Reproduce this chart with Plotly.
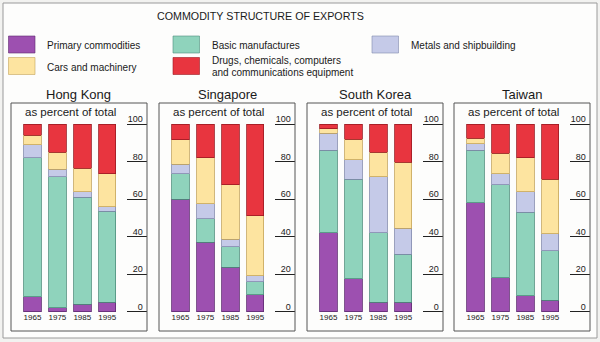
import plotly.graph_objects as go

W, H = 600, 342

title_text = "COMMODITY STRUCTURE OF EXPORTS"
years = ["1965", "1975", "1985", "1995"]
countries = ["Hong Kong", "Singapore", "South Korea", "Taiwan"]
subtitle = "as percent of total"
y_ticks = [0, 20, 40, 60, 80, 100]
series_names = [
    "Primary commodities",
    "Basic manufactures",
    "Metals and shipbuilding",
    "Cars and machinery",
    "Drugs, chemicals, computers<br>and communications equipment",
]

# values (percent of total) in order of years
hk_primary = [8, 2, 4, 5]
hk_basic = [74, 70, 57, 48.5]
hk_metals = [7, 4, 3, 2.5]
hk_cars = [5, 9, 12.5, 17.5]
hk_drugs = [6, 15, 23.5, 26.5]

sg_primary = [60, 37, 23.5, 9]
sg_basic = [13.5, 12.5, 11, 7]
sg_metals = [5, 8, 4, 3]
sg_cars = [13, 24.5, 29, 32]
sg_drugs = [8.5, 18, 32.5, 49]

kr_primary = [42, 17.5, 5, 5]
kr_basic = [44, 53, 37, 25.5]
kr_metals = [9, 10.5, 30, 14]
kr_cars = [2.5, 11, 13, 35]
kr_drugs = [2.5, 8, 15, 20.5]

tw_primary = [58, 18, 8.5, 6]
tw_basic = [28, 49.5, 44.5, 26.5]
tw_metals = [3.5, 6, 11, 9]
tw_cars = [3, 11, 18, 29]
tw_drugs = [7.5, 15.5, 18, 29.5]

panel_data = [
    [hk_primary, hk_basic, hk_metals, hk_cars, hk_drugs],
    [sg_primary, sg_basic, sg_metals, sg_cars, sg_drugs],
    [kr_primary, kr_basic, kr_metals, kr_cars, kr_drugs],
    [tw_primary, tw_basic, tw_metals, tw_cars, tw_drugs],
]

# styling
fill_colors = ["#9d50b0", "#8fd3bc", "#c5cae8", "#fde4a0", "#e8353f"]
edge_colors = ["#5e2a70", "#4e8f7c", "#8289ad", "#c4a55c", "#9a1a22"]
FONT = "Liberation Sans, Arial, Helvetica, sans-serif"
TXT = "#1a1a1a"

def px(x):
    return x / W

def py(y):
    return 1 - y / H

panel_offsets = [0, 148, 296, 443]
box_left, box_right, box_top, box_bottom = 11, 147, 103, 331
bars_left, bars_right = 20.0, 119.7
# value 0 at y=311.5 px, value 100 at y=124 px; range padded so edge labels show
ppu = (311.5 - 124.0) / 100.0
y_lo, y_hi = -3, 106
dom_bottom_px = 311.5 - y_lo * ppu
dom_top_px = 124.0 - (y_hi - 100) * ppu

fig = go.Figure()
layout = dict(
    width=W, height=H,
    margin=dict(l=0, r=0, t=0, b=0),
    paper_bgcolor="#f2f2f0",
    plot_bgcolor="rgba(0,0,0,0)",
    showlegend=False,
    barmode="stack",
    bargap=0.3,
    font=dict(family=FONT, color=TXT),
)
shapes = []
annotations = []

# outer frame
shapes.append(dict(type="rect", xref="paper", yref="paper",
                   x0=px(3), x1=px(597), y0=py(338), y1=py(3),
                   line=dict(color="#9a9a9a", width=1), fillcolor="#fdfdfc", layer="below"))

for i, (country, vals) in enumerate(zip(countries, panel_data)):
    off = panel_offsets[i]
    sfx = "" if i == 0 else str(i + 1)
    xa, ya = "x" + sfx, "y" + sfx
    layout["xaxis" + sfx] = dict(
        domain=[px(bars_left + off), px(bars_right + off)],
        anchor=ya, type="category", range=[-0.5, 3.5],
        showgrid=False, zeroline=False, showline=False, ticks="",
        ticklabelstandoff=-6,
        tickfont=dict(size=8, family=FONT, color=TXT), fixedrange=True,
    )
    layout["yaxis" + sfx] = dict(
        domain=[py(dom_bottom_px), py(dom_top_px)],
        anchor="free", position=px(box_right + off), side="right",
        range=[y_lo, y_hi], tickvals=y_ticks, ticktext=[str(v) for v in y_ticks],
        ticks="inside", ticklen=20, tickwidth=1, tickcolor="#222222",
        ticklabelposition="inside", ticklabelshift=-5, ticklabelstandoff=-17,
        showgrid=False, zeroline=False, showline=False,
        tickfont=dict(size=9, family=FONT, color=TXT), fixedrange=True,
    )
    for s, (name, v) in enumerate(zip(series_names, vals)):
        fig.add_trace(go.Bar(
            x=years, y=v, name=name.replace("<br>", " "), xaxis=xa, yaxis=ya,
            marker=dict(color=fill_colors[s], line=dict(color=edge_colors[s], width=0.8)),
            legendgroup=str(s), showlegend=False,
        ))
    # panel box
    shapes.append(dict(type="rect", xref="paper", yref="paper",
                       x0=px(box_left + off), x1=px(box_right + off),
                       y0=py(box_bottom), y1=py(box_top),
                       line=dict(color="#555555", width=1), fillcolor="rgba(0,0,0,0)"))
    # panel title
    annotations.append(dict(text=country, xref="paper", yref="paper",
                            x=px((box_left + box_right) / 2 + off), y=py(94),
                            xanchor="center", yanchor="middle", showarrow=False,
                            font=dict(size=13, family=FONT, color=TXT)))
    annotations.append(dict(text=subtitle, xref="paper", yref="paper",
                            x=px(22.5 + off), y=py(112.3),
                            xanchor="left", yanchor="middle", showarrow=False,
                            font=dict(size=11.5, family=FONT, color=TXT)))

# main title
annotations.append(dict(text=title_text, xref="paper", yref="paper",
                        x=px(260), y=py(16), xanchor="center", yanchor="middle",
                        showarrow=False, font=dict(size=10.7, family=FONT, color=TXT)))

# legend (swatch boxes + labels)
legend_pos = [(8.5, 36), (173, 36), (372, 36), (8.5, 57.5), (173, 57.5)]
for s, name in enumerate(series_names):
    lx, ly = legend_pos[s]
    shapes.append(dict(type="rect", xref="paper", yref="paper",
                       x0=px(lx), x1=px(lx + 26.5), y0=py(ly + 17), y1=py(ly),
                       line=dict(color=edge_colors[s], width=0.6), fillcolor=fill_colors[s]))
    lines = name.split("<br>")
    if len(lines) == 1:
        annotations.append(dict(text=lines[0], xref="paper", yref="paper",
                                x=px(lx + 36.5), y=py(ly + 9.5), xanchor="left", yanchor="middle",
                                showarrow=False, font=dict(size=10, family=FONT, color=TXT)))
    else:
        for k, ln in enumerate(lines):
            annotations.append(dict(text=ln, xref="paper", yref="paper",
                                    x=px(lx + 36.5), y=py(ly + 3.5 + 11.3 * k), xanchor="left",
                                    yanchor="middle", showarrow=False,
                                    font=dict(size=10, family=FONT, color=TXT)))

layout["shapes"] = shapes
layout["annotations"] = annotations
fig.update_layout(**layout)
fig.write_html("out.html")
